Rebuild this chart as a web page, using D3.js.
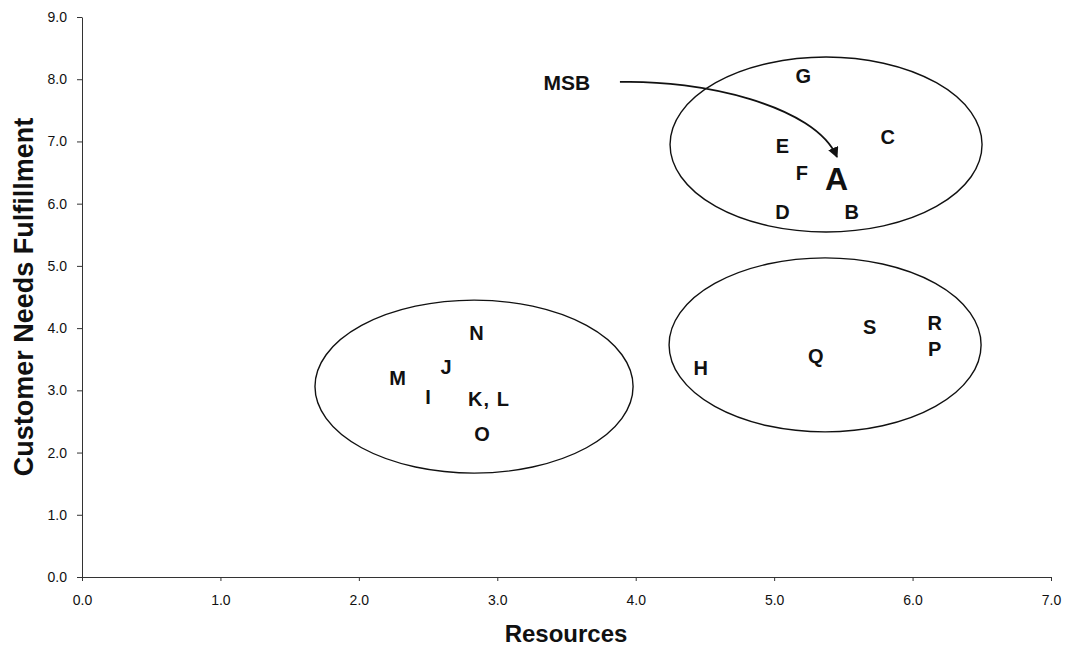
<!DOCTYPE html>
<html><head><meta charset="utf-8">
<script src="https://cdn.jsdelivr.net/npm/d3@7"></script>
<style>body{margin:0;background:#fff}svg{display:block}</style>
</head><body>
<svg id="c" width="1070" height="647"></svg>
<script>
const labels = ["G","C","E","F","A","D","B","N","J","M","I","K, L","O","H","Q","S","R","P"];
const xValues = [5.21,5.82,5.06,5.20,5.45,5.06,5.56,2.85,2.63,2.28,2.50,2.94,2.89,4.47,5.30,5.69,6.16,6.16];
const yValues = [8.05,7.07,6.93,6.49,6.41,5.87,5.87,3.92,3.38,3.20,2.89,2.86,2.30,3.36,3.55,4.02,4.08,3.66];
const xTicks = [0,1,2,3,4,5,6,7];
const yTicks = [0,1,2,3,4,5,6,7,8,9];
const ellipseCx = [5.375,5.368,2.832];
const ellipseCy = [6.95,3.73,3.06];
const ellipseRx = [1.127,1.127,1.149];
const ellipseRy = [1.406,1.398,1.39];
const arrowLabel = "MSB";
const arrowPathX = [3.886,4.464,5.295,5.454];
const arrowPathY = [7.956,7.99,7.586,6.75];

const svg = d3.select("#c");
const x = d3.scaleLinear().domain([0,7]).range([82,1051]);
const y = d3.scaleLinear().domain([0,9]).range([577,17]);
const FONT = "Arial, 'Liberation Sans', Helvetica, sans-serif";

const fmt = d3.format(".1f");
svg.append("g").attr("transform","translate(0,577)")
  .call(d3.axisBottom(x).tickValues(xTicks).tickFormat(fmt).tickSize(4).tickSizeOuter(0))
  .call(g=>g.selectAll("text").attr("font-family",FONT).attr("font-size",14).attr("fill","#111").attr("y",18))
  .call(g=>g.selectAll("line,path").attr("stroke","#333"));
svg.append("g").attr("transform","translate(82,0)")
  .call(d3.axisLeft(y).tickValues(yTicks).tickFormat(fmt).tickSize(5).tickSizeOuter(0))
  .call(g=>g.selectAll("text").attr("font-family",FONT).attr("font-size",14).attr("fill","#111").attr("x",-15))
  .call(g=>g.selectAll("line,path").attr("stroke","#333"));

svg.append("text").attr("x",566).attr("y",642).attr("text-anchor","middle")
  .attr("font-family",FONT).attr("font-weight","bold").attr("font-size",24).attr("fill","#111").text("Resources");
svg.append("text").attr("transform","translate(33,297) rotate(-90)").attr("text-anchor","middle")
  .attr("font-family",FONT).attr("font-weight","bold").attr("font-size",27).attr("fill","#111").text("Customer Needs Fulfillment");

const ell = ellipseCx.map((cx,i)=>({cx,cy:ellipseCy[i],rx:ellipseRx[i],ry:ellipseRy[i]}));
svg.append("g").selectAll("ellipse").data(ell).join("ellipse")
  .attr("cx",d=>x(d.cx)).attr("cy",d=>y(d.cy))
  .attr("rx",d=>x(d.rx)-x(0)).attr("ry",d=>y(0)-y(d.ry))
  .attr("fill","none").attr("stroke","#111").attr("stroke-width",1.4);

const pts = labels.map((l,i)=>({l,x:xValues[i],y:yValues[i]}));
svg.append("g").selectAll("text").data(pts).join("text")
  .attr("x",d=>x(d.x)).attr("y",d=>y(d.y)).attr("dy","0.36em").attr("text-anchor","middle")
  .attr("font-family",FONT).attr("font-weight","bold")
  .attr("letter-spacing",d=>d.l==="K, L"?"1px":null)
  .attr("font-size",d=>d.l==="A"?32:20).attr("fill","#111").text(d=>d.l);

svg.append("defs").append("marker").attr("id","ah").attr("viewBox","0 0 10 10")
  .attr("refX",9).attr("refY",5).attr("markerWidth",6).attr("markerHeight",6).attr("orient","auto")
  .append("path").attr("d","M0,0 L10,5 L0,10 z").attr("fill","#111");

const ap = arrowPathX.map((v,i)=>[x(v),y(arrowPathY[i])]);
svg.append("path").attr("d",`M${ap[0]} C${ap[1]} ${ap[2]} ${ap[3]}`)
  .attr("fill","none").attr("stroke","#111").attr("stroke-width",1.8).attr("marker-end","url(#ah)");
svg.append("text").attr("x",ap[0][0]-53).attr("y",ap[0][1]).attr("dy","0.36em").attr("text-anchor","middle")
  .attr("font-family",FONT).attr("font-weight","bold").attr("font-size",21).attr("fill","#111").text(arrowLabel);
</script>
</body></html>
